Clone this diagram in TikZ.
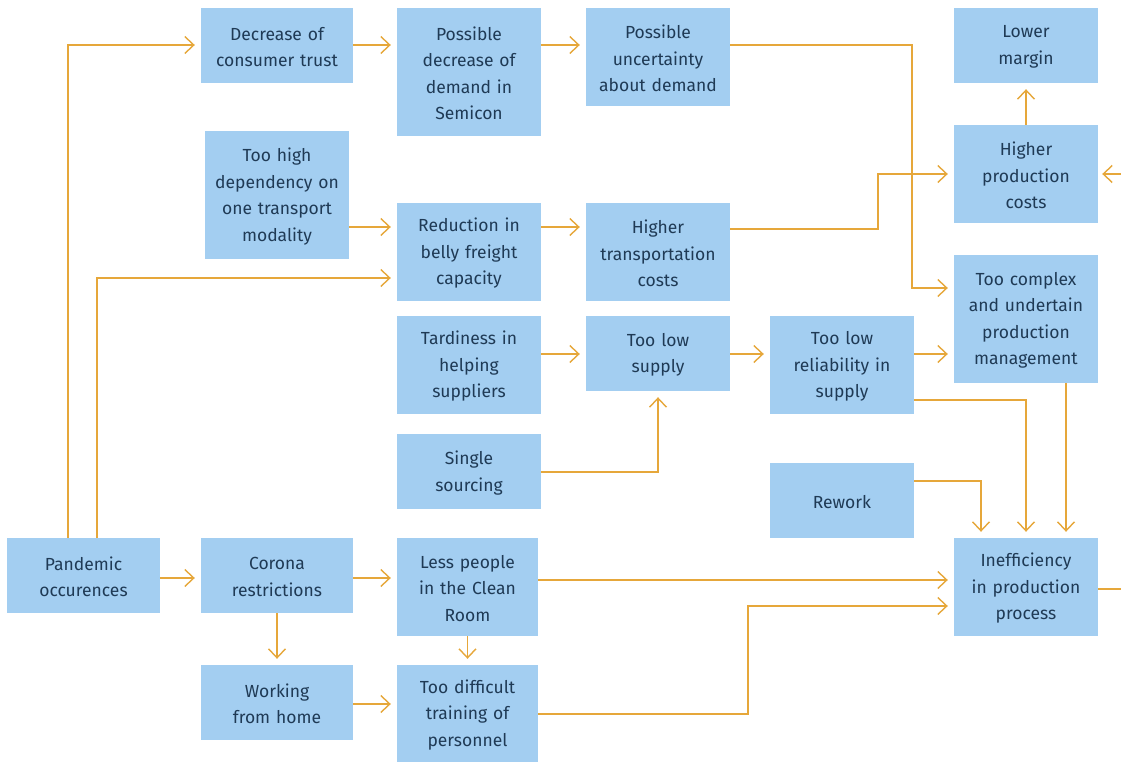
\documentclass[tikz,border=0pt]{standalone}
\usepackage{fontspec}
\setmainfont{Fira Sans}
\usetikzlibrary{arrows.meta}
\definecolor{boxc}{HTML}{A3CEF1}
\definecolor{txtc}{HTML}{1F3A55}
\definecolor{linec}{HTML}{E6A73A}
\newcommand\mybox[6]{\node[box, minimum width={#4pt-#2pt}, minimum height={#5pt-#3pt}, label={[txt, text width={#4pt-#2pt-4pt}]center:{#6}}] (#1) at ({(#2+#4)/2},{(#3+#5)/2}) {};}
\begin{document}
\begin{tikzpicture}[x=1pt,y=-1pt,
 box/.style={fill=boxc, inner sep=0pt},
 txt/.style={text=txtc, align=center, inner sep=0pt, yshift=-1.5pt, font=\fontsize{17.5}{26.5}\selectfont},
 arr/.style={draw=linec, line width=1.4pt, -{Straight Barb[length=9pt,width=17pt,line width=1.4pt]}, shorten >=6pt},
 ln/.style={draw=linec, line width=1.4pt}]
\useasboundingbox (0,0) rectangle (1121,762);
\mybox{dec}{201}{8}{353}{83}{Decrease of\\consumer trust}
\mybox{dem}{397}{8}{541}{136}{Possible\\decrease of\\demand in\\Semicon}
\mybox{unc}{586}{8}{730}{106}{Possible\\uncertainty\\about demand}
\mybox{lm}{954}{8}{1098}{83}{Lower\\margin}
\mybox{dep}{205}{131}{349}{259}{Too high\\dependency on\\one transport\\modality}
\mybox{belly}{397}{203}{541}{301}{Reduction in\\belly freight\\capacity}
\mybox{trans}{586}{203}{730}{301}{Higher\\transportation\\costs}
\mybox{hpc}{954}{125}{1098}{223}{Higher\\production\\costs}
\mybox{cplx}{954}{255}{1098}{383}{Too complex\\and undertain\\production\\management}
\mybox{tard}{397}{316}{541}{414}{Tardiness in\\helping\\suppliers}
\mybox{low}{586}{316}{730}{391}{Too low\\supply}
\mybox{rel}{770}{316}{914}{414}{Too low\\reliability in\\supply}
\mybox{single}{397}{434}{541}{509}{Single\\sourcing}
\mybox{rework}{770}{463}{914}{538}{Rework}
\mybox{pand}{7}{538}{160}{613}{Pandemic\\occurences}
\mybox{corona}{201}{538}{353}{613}{Corona\\restrictions}
\mybox{less}{397}{538}{538}{636}{Less people\\in the Clean\\Room}
\mybox{ineff}{954}{538}{1098}{636}{Inefficiency\\in production\\process}
\mybox{wfh}{201}{665}{353}{740}{Working\\from home}
\mybox{train}{397}{665}{538}{762}{Too difficult\\training of\\personnel}
\foreach \r in {45,174,227,229,278,288,354,400,472,481,578,580,589,606,704,714}{\coordinate (r\r) at (0,\r);}
\foreach \c in {68,97,912,878,981,1066,748,1121}{\coordinate (c\c) at (\c,0);}
\draw[arr] (c68 |- pand.north) |- (dec.west |- r45);
\draw[arr] (dec.east |- r45) -- (dem.west |- r45);
\draw[arr] (dem.east |- r45) -- (unc.west |- r45);
\draw[arr] (unc.east |- r45) -| (c912 |- r288) -- (cplx.west |- r288);
\draw[arr] (dep.east |- r227) -- (belly.west |- r227);
\draw[arr] (belly.east |- r227) -- (trans.west |- r227);
\draw[arr] (trans.east |- r229) -| (c878 |- r174) -- (hpc.west |- r174);
\draw[arr, shorten >=4pt] (c1121 |- r174) -- (hpc.east |- r174);
\draw[arr] (hpc.north) -- (lm.south);
\draw[arr] (c97 |- pand.north) |- (belly.west |- r278);
\draw[arr] (tard.east |- r354) -- (low.west |- r354);
\draw[arr] (low.east |- r354) -- (rel.west |- r354);
\draw[arr] (rel.east |- r354) -- (cplx.west |- r354);
\draw[arr] (single.east |- r472) -| (low.south);
\draw[arr] (rel.east |- r400) -| (ineff.north);
\draw[arr] (rework.east |- r481) -| (c981 |- ineff.north);
\draw[arr] (c1066 |- cplx.south) -- (c1066 |- ineff.north);
\draw[ln] (ineff.east |- r589) -- (c1121 |- r589);
\draw[arr] (pand.east |- r578) -- (corona.west |- r578);
\draw[arr] (corona.east |- r578) -- (less.west |- r578);
\draw[arr] (corona.south) -- (wfh.north);
\draw[arr] (less.east |- r580) -- (ineff.west |- r580);
\draw[arr] (less.south) -- (train.north);
\draw[arr] (wfh.east |- r704) -- (train.west |- r704);
\draw[arr] (train.east |- r714) -| (c748 |- r606) -- (ineff.west |- r606);
\end{tikzpicture}
\end{document}
